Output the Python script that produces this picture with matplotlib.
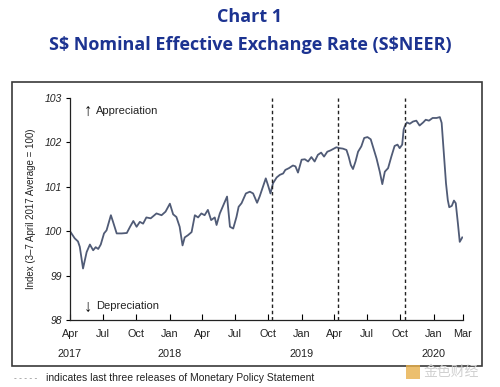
import matplotlib
matplotlib.use("Agg")
import matplotlib.pyplot as plt
import matplotlib.transforms as mtransforms
from matplotlib.patches import Rectangle
import pandas as pd

# ---- data ----
dates = [
    "2017-04-01", "2017-04-14", "2017-04-23", "2017-04-28", "2017-05-07", "2017-05-17", "2017-05-26",
    "2017-06-04", "2017-06-11", "2017-06-18", "2017-06-25", "2017-07-04", "2017-07-11", "2017-07-23",
    "2017-07-29", "2017-08-08", "2017-08-22", "2017-09-05", "2017-09-14", "2017-09-23", "2017-10-02",
    "2017-10-11", "2017-10-20", "2017-10-29", "2017-11-10", "2017-11-26", "2017-12-10", "2017-12-21",
    "2018-01-02", "2018-01-11", "2018-01-20", "2018-01-29", "2018-02-06", "2018-02-12", "2018-02-21",
    "2018-03-03", "2018-03-12", "2018-03-21", "2018-03-30", "2018-04-08", "2018-04-17", "2018-04-26",
    "2018-05-06", "2018-05-11", "2018-05-20", "2018-06-01", "2018-06-09", "2018-06-17", "2018-06-26",
    "2018-07-05", "2018-07-11", "2018-07-19", "2018-07-31", "2018-08-11", "2018-08-20", "2018-08-31",
    "2018-09-07", "2018-09-16", "2018-09-24", "2018-09-30", "2018-10-07", "2018-10-14", "2018-10-24",
    "2018-11-02", "2018-11-11", "2018-11-17", "2018-11-27", "2018-12-08", "2018-12-15", "2018-12-22",
    "2019-01-01", "2019-01-10", "2019-01-19", "2019-01-28", "2019-02-06", "2019-02-15", "2019-02-24",
    "2019-03-04", "2019-03-13", "2019-03-22", "2019-03-29", "2019-04-07", "2019-04-16", "2019-04-25",
    "2019-05-05", "2019-05-11", "2019-05-17", "2019-05-23", "2019-05-30", "2019-06-06", "2019-06-15",
    "2019-06-23", "2019-07-02", "2019-07-11", "2019-07-17", "2019-07-27", "2019-08-05", "2019-08-12",
    "2019-08-19", "2019-08-28", "2019-09-06", "2019-09-15", "2019-09-23", "2019-09-29", "2019-10-06",
    "2019-10-10", "2019-10-13", "2019-10-19", "2019-10-27", "2019-11-05", "2019-11-14", "2019-11-23",
    "2019-12-03", "2019-12-10", "2019-12-19", "2019-12-29", "2020-01-09", "2020-01-18", "2020-01-23",
    "2020-01-29", "2020-02-04", "2020-02-09", "2020-02-13", "2020-02-20", "2020-02-26", "2020-03-02",
    "2020-03-08", "2020-03-13", "2020-03-20",
]
sneer = [
    100.00, 99.84, 99.77, 99.65, 99.16, 99.53, 99.70,
    99.57, 99.64, 99.60, 99.70, 99.95, 100.02, 100.36,
    100.21, 99.95, 99.95, 99.96, 100.10, 100.23, 100.10,
    100.21, 100.17, 100.31, 100.29, 100.40, 100.36, 100.44,
    100.62, 100.38, 100.32, 100.10, 99.68, 99.86, 99.91,
    99.98, 100.36, 100.31, 100.40, 100.36, 100.48, 100.25,
    100.31, 100.14, 100.40, 100.63, 100.78, 100.10, 100.06,
    100.32, 100.55, 100.63, 100.85, 100.89, 100.85, 100.64,
    100.78, 101.00, 101.19, 101.04, 100.85, 101.08, 101.21,
    101.27, 101.30, 101.38, 101.42, 101.48, 101.46, 101.32,
    101.61, 101.62, 101.57, 101.67, 101.57, 101.72, 101.77,
    101.68, 101.79, 101.82, 101.85, 101.89, 101.87, 101.86,
    101.83, 101.68, 101.49, 101.40, 101.57, 101.79, 101.91,
    102.10, 102.12, 102.07, 101.91, 101.64, 101.34, 101.06,
    101.34, 101.42, 101.68, 101.92, 101.95, 101.87, 101.95,
    102.29, 102.36, 102.45, 102.42, 102.47, 102.49, 102.38,
    102.45, 102.51, 102.49, 102.55, 102.55, 102.57, 102.44,
    101.76, 101.08, 100.70, 100.54, 100.57, 100.69, 100.63,
    100.17, 99.76, 99.86,
]
mps_dates = ["2018-10-12", "2019-04-12", "2019-10-14"]

tick_dates = ["2017-04-01", "2017-07-01", "2017-10-01", "2018-01-01", "2018-04-01", "2018-07-01",
              "2018-10-01", "2019-01-01", "2019-04-01", "2019-07-01", "2019-10-01", "2020-01-01",
              "2020-03-22"]
tick_labels = ["Apr", "Jul", "Oct", "Jan", "Apr", "Jul", "Oct", "Jan", "Apr", "Jul", "Oct", "Jan", "Mar"]
year_dates = ["2017-04-01", "2018-01-01", "2019-01-01", "2020-01-01"]
year_labels = ["2017", "2018", "2019", "2020"]
y_ticks = [98, 99, 100, 101, 102, 103]

# ---- figure ----
plt.rcParams['font.family'] = ['Liberation Sans', 'DejaVu Sans']
plt.rcParams['text.parse_math'] = False
W, H = 500, 387
fig = plt.figure(figsize=(W / 100, H / 100), dpi=100)
fig.patch.set_facecolor("white")

# outer frame
fig.patches.append(Rectangle((12 / W, 1 - 366 / H), (482 - 12) / W, (366 - 81.5) / H,
                             transform=fig.transFigure, fill=False, edgecolor="#3a3a3a", lw=1.2))

ax = fig.add_axes([70 / W, 1 - 320 / H, (463 - 70) / W, (320 - 98) / H])
x = pd.to_datetime(dates)
ax.plot(x, sneer, color="#505b76", lw=1.3)

for d in mps_dates:
    ax.axvline(pd.Timestamp(d), color="#222222", lw=1.0, ls=(0, (2.5, 2)))

ax.set_xlim(pd.Timestamp("2017-04-01"), pd.Timestamp("2020-03-22"))
ax.set_ylim(98, 103)
ax.set_yticks(y_ticks)
ax.set_yticklabels([str(v) for v in y_ticks], fontstyle="italic", fontsize=7.5, color="#222222")
ax.set_xticks(pd.to_datetime(tick_dates))
ax.set_xticklabels(tick_labels, fontsize=7.8, color="#222222")
ax.tick_params(axis="x", direction="in", length=4, width=0.8, pad=6.5)
ax.tick_params(axis="y", direction="out", length=3, width=0.8, pad=3)
for s in ("top", "right"):
    ax.spines[s].set_visible(False)
for s in ("left", "bottom"):
    ax.spines[s].set_linewidth(0.9)
    ax.spines[s].set_color("#222222")

trans = mtransforms.blended_transform_factory(ax.transData, ax.transAxes)
for d, lab in zip(year_dates, year_labels):
    ax.text(pd.Timestamp(d), -0.152, lab, transform=trans, ha="center", va="center",
            fontsize=7.8, color="#222222")

ax.set_ylabel("Index (3\u20137 April 2017 Average = 100)", fontsize=7, color="#222222", labelpad=6)

ax.text(0.035, 0.94, "\u2191", transform=ax.transAxes, fontsize=12, ha="left", va="center", color="#111111")
ax.text(0.066, 0.94, "Appreciation", transform=ax.transAxes, fontsize=8, ha="left", va="center", color="#222222")
ax.text(0.035, 0.058, "\u2193", transform=ax.transAxes, fontsize=12, ha="left", va="center", color="#111111")
ax.text(0.066, 0.063, "Depreciation", transform=ax.transAxes, fontsize=8, ha="left", va="center", color="#222222")

# titles
fig.text(0.5, 1 - 17 / H, "Chart 1", ha="center", va="center", fontsize=13,
         fontweight="bold", color="#1c3391", family=["Open Sans", "DejaVu Sans"])
fig.text(0.5, 1 - 45 / H, "S$ Nominal Effective Exchange Rate (S$NEER)", ha="center", va="center",
         fontsize=13, fontweight="bold", color="#1c3391", family=["Open Sans", "DejaVu Sans"])

# footer
fig.text(14 / W, 1 - 378 / H, "- - - - -", ha="left", va="center", fontsize=6, color="#777777")
fig.text(46 / W, 1 - 378 / H, "indicates last three releases of Monetary Policy Statement",
         ha="left", va="center", fontsize=7.5, color="#222222")

# watermark
fig.patches.append(Rectangle((406 / W, 1 - 379 / H), 14 / W, 14 / H, transform=fig.transFigure,
                             facecolor="#e8b04a", edgecolor="none", alpha=0.8))
fig.text(424 / W, 1 - 372 / H, "金色财经", ha="left", va="center", fontsize=10, color="#d0d0d0",
         family=["Noto Sans CJK SC", "DejaVu Sans"])

fig.savefig("out.png", dpi=100)
